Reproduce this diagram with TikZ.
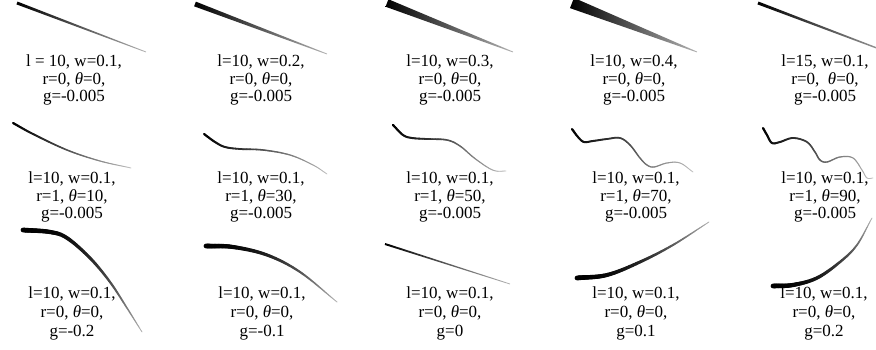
\documentclass[tikz,border=0pt]{standalone}
\usepackage{fontspec}
\setmainfont{Liberation Serif}
\tikzset{
  lbl/.style={align=center, font=\fontsize{17}{17.5}\selectfont, inner sep=0pt},
  lbl3/.style={align=center, font=\fontsize{17}{19}\selectfont, inner sep=0pt}
}
\newcommand{\thet}{\textit{θ}}
\def\brpow{2}
% tapered brush stroke along a Catmull-Rom curve through points x/y
% #1 start width, #2 end width, #3 end grey (percent black), #4 points
\newcommand\crbrush[4]{%
  \foreach \px/\py [count=\kI] in {#4} {%
    \expandafter\xdef\csname crx\kI\endcsname{\px}%
    \expandafter\xdef\csname cry\kI\endcsname{\py}%
    \xdef\crN{\kI}%
  }%
  \pgfmathtruncatemacro\crM{\crN-1}%
  \expandafter\xdef\csname crc1\endcsname{0}%
  \foreach \kI in {1,...,\crM} {%
    \pgfmathtruncatemacro\kQ{\kI+1}%
    \pgfmathsetmacro\kL{veclen(\csname crx\kQ\endcsname-\csname crx\kI\endcsname,\csname cry\kQ\endcsname-\csname cry\kI\endcsname)}%
    \expandafter\xdef\csname crl\kI\endcsname{\kL}%
    \pgfmathsetmacro\kC{\csname crc\kI\endcsname+\kL}%
    \expandafter\xdef\csname crc\kQ\endcsname{\kC}%
  }%
  \xdef\crT{\csname crc\crN\endcsname}%
  \xdef\ppx{\csname crx1\endcsname}\xdef\ppy{\csname cry1\endcsname}%
  \foreach \kI in {1,...,\crM} {%
    \pgfmathtruncatemacro\kP{max(\kI-1,1)}%
    \pgfmathtruncatemacro\kQ{\kI+1}%
    \pgfmathtruncatemacro\kR{min(\kI+2,\crN)}%
    \pgfmathsetmacro\kfa{\kI==1 ? 3 : 6}%
    \pgfmathsetmacro\kfb{\kQ==\crN ? 3 : 6}%
    \edef\brux{\csname crx\kI\endcsname}\edef\bruy{\csname cry\kI\endcsname}%
    \edef\brvx{\csname crx\kQ\endcsname}\edef\brvy{\csname cry\kQ\endcsname}%
    \pgfmathsetmacro\qax{\brux+(\brvx-\csname crx\kP\endcsname)/\kfa}%
    \pgfmathsetmacro\qay{\bruy+(\brvy-\csname cry\kP\endcsname)/\kfa}%
    \pgfmathsetmacro\qbx{\brvx-(\csname crx\kR\endcsname-\brux)/\kfb}%
    \pgfmathsetmacro\qby{\brvy-(\csname cry\kR\endcsname-\bruy)/\kfb}%
    \edef\brcc{\csname crc\kI\endcsname}\edef\brll{\csname crl\kI\endcsname}%
    \pgfmathtruncatemacro\kS{max(2,ceil(\brll/1.5))}%
    \foreach \kJ in {1,...,\kS} {%
      \pgfmathsetmacro\kT{\kJ/\kS}%
      \pgfmathsetmacro\kU{1-\kT}%
      \pgfmathsetmacro\brnx{\kU*\kU*\kU*\brux+3*\kU*\kU*\kT*\qax+3*\kU*\kT*\kT*\qbx+\kT*\kT*\kT*\brvx}%
      \pgfmathsetmacro\brny{\kU*\kU*\kU*\bruy+3*\kU*\kU*\kT*\qay+3*\kU*\kT*\kT*\qby+\kT*\kT*\kT*\brvy}%
      \pgfmathsetmacro\bfr{(\brcc+\kT*\brll)/\crT}%
      \pgfmathsetmacro\brr{#1+(#2-#1)*\bfr}%
      \pgfmathsetmacro\bkk{100-(100-#3)*(\bfr)^\brpow}%
      \draw[line width=\brr pt, line cap=round, black!\bkk] (\ppx,\ppy) -- (\brnx,\brny);%
      \xdef\ppx{\brnx}\xdef\ppy{\brny}%
    }%
  }%
}
% straight tapered stroke as a shaded wedge
% #1 start width, #2 end width, #3 end grey, #4 x1, #5 y1, #6 x2, #7 y2
\newcommand\wedgebrush[7]{%
  \pgfmathsetmacro\wL{veclen(#6-#4,#7-#5)}%
  \pgfmathsetmacro\wnx{-(#7-#5)/\wL}%
  \pgfmathsetmacro\wny{(#6-#4)/\wL}%
  \pgfmathsetmacro\wax{#4+\wnx*#1/2}\pgfmathsetmacro\way{#5+\wny*#1/2}%
  \pgfmathsetmacro\wbx{#4-\wnx*#1/2}\pgfmathsetmacro\wby{#5-\wny*#1/2}%
  \pgfmathsetmacro\wcx{#6-\wnx*#2/2}\pgfmathsetmacro\wcy{#7-\wny*#2/2}%
  \pgfmathsetmacro\wdx{#6+\wnx*#2/2}\pgfmathsetmacro\wdy{#7+\wny*#2/2}%
  \shade[left color=black, middle color=black!88, right color=black!#3]
    (\wax,\way) -- (\wbx,\wby) -- (\wcx,\wcy) -- (\wdx,\wdy) -- cycle;%
}
\begin{document}
\begin{tikzpicture}[x=1pt,y=-1pt]
\useasboundingbox (0,0) rectangle (876,350);
% row 1
\wedgebrush{3}{0.8}{30}{17}{3}{146}{52}
\wedgebrush{5}{0.8}{30}{195}{4}{327}{54}
\wedgebrush{8}{0.8}{30}{387}{3}{513}{52}
\wedgebrush{11}{0.8}{30}{572}{3}{697}{52}
\wedgebrush{3}{1.3}{40}{758}{3}{882}{50}
% row 2
\def\brpow{1.2}
\crbrush{2.2}{0.8}{25}{13/123,33/134,67/150,100/161,131/168}
\crbrush{2.2}{0.8}{25}{204/134,215/142,225/147,240/149,263/150,290/155,313/165,327/174}
\crbrush{2.2}{0.8}{25}{393/125,403/135,412/138,427/139,447/140,460/146,473/157,487/167,496/171,506/171}
\crbrush{2.2}{0.8}{25}{572/129,578/137,584/142,593/141,607/139,620/138,630/145,640/158,647/165,654/167,667/163,680/163,693/172}
\crbrush{2.2}{0.8}{25}{763/128,767/135,772/143,780/142,793/138,807/142,815/152,820/160,827/162,840/157,853/158,862/170,867/178,873/178}
% row 3
\def\brpow{2}
\crbrush{4.8}{0.8}{30}{23/230,50/232,67/238,90/258,110/282,127/308,142/332}
\crbrush{4.8}{0.8}{30}{206/246,233/247,267/255,300/272,337/302}
\wedgebrush{2}{0.8}{30}{385}{244}{510}{284}
\crbrush{4.8}{0.8}{30}{577/278,607/275,640/262,673/245,709/222}
\crbrush{4.8}{0.8}{30}{773/286,793/285,817/278,840/262,857/245,872/218}
% labels row 1
\node[lbl] (t1) at (74,80) {l = 10, w=0.1,\\ r=0, \thet=0,\\ g=-0.005};
\node[lbl] (t2) at (261,80) {l=10, w=0.2,\\ r=0, \thet=0,\\ g=-0.005};
\node[lbl] (t3) at (450,80) {l=10, w=0.3,\\ r=0, \thet=0,\\ g=-0.005};
\node[lbl] (t4) at (634,80) {l=10, w=0.4,\\ r=0, \thet=0,\\ g=-0.005};
\node[lbl] (t5) at (825,80) {l=15, w=0.1,\\ r=0,\ \ \thet=0,\\ g=-0.005};
% labels row 2
\node[lbl] (t6) at (72,197) {l=10, w=0.1,\\ r=1, \thet=10,\\ g=-0.005};
\node[lbl] (t7) at (261,197) {l=10, w=0.1,\\ r=1, \thet=30,\\ g=-0.005};
\node[lbl] (t8) at (450,197) {l=10, w=0.1,\\ r=1, \thet=50,\\ g=-0.005};
\node[lbl] (t9) at (636,197) {l=10, w=0.1,\\ r=1, \thet=70,\\ g=-0.005};
\node[lbl] (t10) at (825,197) {l=10, w=0.1,\\ r=1, \thet=90,\\ g=-0.005};
% labels row 3
\node[lbl3] (t11) at (72,313) {l=10, w=0.1,\\ r=0, \thet=0,\\ g=-0.2};
\node[lbl3] (t12) at (262,313) {l=10, w=0.1,\\ r=0, \thet=0,\\ g=-0.1};
\node[lbl3] (t13) at (450,313) {l=10, w=0.1,\\ r=0, \thet=0,\\ g=0};
\node[lbl3] (t14) at (636,313) {l=10, w=0.1,\\ r=0, \thet=0,\\ g=0.1};
\node[lbl3] (t15) at (824,313) {l=10, w=0.1,\\ r=0, \thet=0,\\ g=0.2};
\end{tikzpicture}
\end{document}
